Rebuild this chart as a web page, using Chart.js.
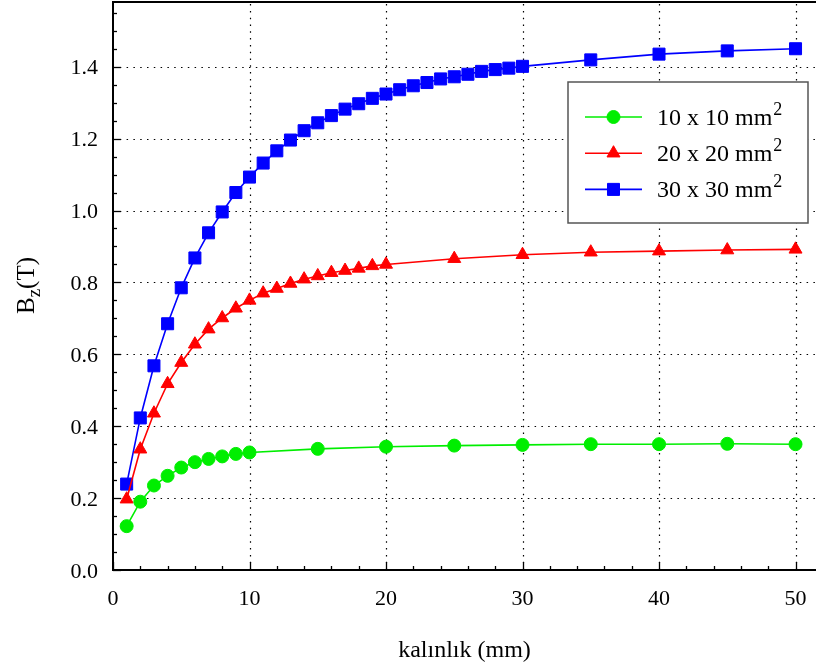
<!DOCTYPE html>
<html><head><meta charset="utf-8">
<script src="https://cdn.jsdelivr.net/npm/chart.js@4/dist/chart.umd.min.js"></script>
<style>html,body{margin:0;padding:0;background:#fff;overflow:hidden}</style>
</head><body>
<canvas id="c" width="816" height="671" style="display:block;width:816px;height:671px"></canvas>
<script>
// ---- data ----
const xGreen = [1,2,3,4,5,6,7,8,9,10,15,20,25,30,35,40,45,50];
const yGreen = [0.122,0.19,0.235,0.262,0.285,0.300,0.309,0.316,0.323,0.327,0.337,0.343,0.346,0.348,0.350,0.350,0.351,0.350];
const xRed = [1,2,3,4,5,6,7,8,9,10,11,12,13,14,15,16,17,18,19,20,25,30,35,40,45,50];
const yRed = [0.197,0.336,0.436,0.518,0.577,0.628,0.670,0.701,0.728,0.750,0.770,0.783,0.797,0.809,0.818,0.827,0.833,0.839,0.846,0.850,0.866,0.877,0.884,0.887,0.890,0.892];
const xBlue = [1,2,3,4,5,6,7,8,9,10,11,12,13,14,15,16,17,18,19,20,21,22,23,24,25,26,27,28,29,30,35,40,45,50];
const yBlue = [0.239,0.423,0.568,0.685,0.785,0.868,0.938,0.996,1.050,1.093,1.132,1.166,1.196,1.222,1.244,1.264,1.282,1.297,1.312,1.324,1.336,1.347,1.356,1.366,1.372,1.379,1.387,1.392,1.396,1.401,1.419,1.435,1.444,1.450];
const seriesLabels = ["10 x 10 mm\u00b2", "20 x 20 mm\u00b2", "30 x 30 mm\u00b2"];
const xMajorTicks = [0,10,20,30,40,50];
const yMajorTicks = [0,0.2,0.4,0.6,0.8,1.0,1.2,1.4];
const xTickLabels = ["0","10","20","30","40","50"];
const yTickLabels = ["0.0","0.2","0.4","0.6","0.8","1.0","1.2","1.4"];
const xTitle = "kalınlık (mm)";
const yTitleMain = "B", yTitleSub = "z", yTitleRest = "(T)";

const FONT = "'Liberation Serif', 'Times New Roman', serif";
const pts = (xs, ys) => xs.map((x, i) => ({x: x, y: ys[i]}));

const axesPlugin = {
  id: 'axesDecor',
  beforeDatasetsDraw(chart) {
    const ctx = chart.ctx, ca = chart.chartArea;
    const xs = chart.scales.x, ys = chart.scales.y;
    ctx.save();
    ctx.strokeStyle = '#000';
    ctx.lineWidth = 1.2;
    ctx.setLineDash([1.5, 5.3]);
    xMajorTicks.forEach(v => {
      if (v === 0) return;
      const px = Math.round(xs.getPixelForValue(v)) + 0.5;
      ctx.beginPath(); ctx.moveTo(px, ca.bottom); ctx.lineTo(px, ca.top); ctx.stroke();
    });
    yMajorTicks.forEach(v => {
      if (v === 0) return;
      const py = Math.round(ys.getPixelForValue(v)) + 0.5;
      ctx.beginPath(); ctx.moveTo(ca.left, py); ctx.lineTo(ca.right, py); ctx.stroke();
    });
    ctx.restore();
  },
  afterDatasetsDraw(chart) {
    const ctx = chart.ctx, ca = chart.chartArea;
    const xs = chart.scales.x, ys = chart.scales.y;
    ctx.save();
    ctx.setLineDash([]);
    ctx.strokeStyle = '#000';
    // ticks (inward)
    ctx.lineWidth = 1.3;
    for (let v = 0; v <= xs.max; v += 2) {
      const px = Math.round(xs.getPixelForValue(v)) + 0.5;
      const len = (v % 10 === 0) ? 8 : 4;
      ctx.beginPath(); ctx.moveTo(px, ca.bottom); ctx.lineTo(px, ca.bottom - len); ctx.stroke();
    }
    for (let k = 0; k * 0.05 <= ys.max + 1e-9; k++) {
      const py = Math.round(ys.getPixelForValue(k * 0.05)) + 0.5;
      const len = (k % 4 === 0) ? 8 : 4;
      ctx.beginPath(); ctx.moveTo(ca.left, py); ctx.lineTo(ca.left + len, py); ctx.stroke();
    }
    // axis lines
    ctx.lineWidth = 2;
    ctx.beginPath();
    ctx.moveTo(ca.right, ca.top); ctx.lineTo(ca.left, ca.top);
    ctx.lineTo(ca.left, ca.bottom); ctx.lineTo(ca.right, ca.bottom);
    ctx.stroke();

    // tick labels
    ctx.fillStyle = '#000';
    ctx.font = '22px ' + FONT;
    ctx.textBaseline = 'alphabetic';
    ctx.textAlign = 'center';
    xMajorTicks.forEach((v, i) => {
      ctx.fillText(xTickLabels[i], xs.getPixelForValue(v), ca.bottom + 35);
    });
    ctx.textAlign = 'right';
    yMajorTicks.forEach((v, i) => {
      ctx.fillText(yTickLabels[i], ca.left - 15, ys.getPixelForValue(v) + 7.5);
    });

    // legend
    const bx = ca.left + 455, by = ca.top + 80, bw = 240, bh = 141;
    ctx.fillStyle = '#fff';
    ctx.fillRect(bx, by, bw, bh);
    ctx.strokeStyle = '#555';
    ctx.lineWidth = 1.5;
    ctx.strokeRect(bx, by, bw, bh);
    chart.data.datasets.forEach((ds, i) => {
      const ry = by + 35 + i * 36.2;
      ctx.strokeStyle = ds.borderColor;
      ctx.lineWidth = 1.6;
      ctx.beginPath(); ctx.moveTo(bx + 17, ry); ctx.lineTo(bx + 74, ry); ctx.stroke();
      ctx.fillStyle = ds.backgroundColor;
      ctx.strokeStyle = ds.borderColor;
      ctx.lineWidth = 1;
      Chart.helpers.drawPoint(ctx, {pointStyle: ds.pointStyle, radius: ds.pointRadius, borderWidth: 1}, bx + 45.5, ry);
      const parts = ds.label.split('\u00b2');
      ctx.fillStyle = '#000';
      ctx.font = '24px ' + FONT;
      ctx.textBaseline = 'alphabetic';
      ctx.textAlign = 'left';
      const tx = bx + 89, ty = ry + 8;
      ctx.fillText(parts[0], tx, ty);
      const w = ctx.measureText(parts[0]).width;
      ctx.font = '18px ' + FONT;
      ctx.fillText('2', tx + w + 1, ty - 10);
    });

    // y title with subscript
    ctx.fillStyle = '#000';
    ctx.translate(34, 314);
    ctx.rotate(-Math.PI / 2);
    ctx.textAlign = 'left';
    ctx.textBaseline = 'alphabetic';
    ctx.font = '25px ' + FONT;
    ctx.fillText(yTitleMain, 0, 0);
    let w1 = ctx.measureText(yTitleMain).width;
    ctx.font = '19px ' + FONT;
    ctx.fillText(yTitleSub, w1, 6);
    let w2 = ctx.measureText(yTitleSub).width;
    ctx.font = '25px ' + FONT;
    ctx.fillText(yTitleRest, w1 + w2, 0);
    ctx.restore();
  }
};

new Chart(document.getElementById('c'), {
  type: 'line',
  data: {
    datasets: [
      {label: seriesLabels[0], data: pts(xGreen, yGreen), borderColor: '#00ee00', backgroundColor: '#00ee00',
       pointStyle: 'circle', pointRadius: 6.5, pointBorderWidth: 1, borderWidth: 1.6},
      {label: seriesLabels[1], data: pts(xRed, yRed), borderColor: '#ff0000', backgroundColor: '#ff0000',
       pointStyle: 'triangle', pointRadius: 7.5, pointBorderWidth: 1, borderWidth: 1.6},
      {label: seriesLabels[2], data: pts(xBlue, yBlue), borderColor: '#0000ff', backgroundColor: '#0000ff',
       pointStyle: 'rect', pointRadius: 8.5, pointBorderWidth: 1, borderWidth: 1.6}
    ]
  },
  options: {
    responsive: false,
    animation: false,
    devicePixelRatio: 1,
    layout: {autoPadding: false, padding: {top: 2, right: 0, left: 0, bottom: 0}},
    plugins: {legend: {display: false}, tooltip: {enabled: false}},
    elements: {line: {tension: 0}},
    scales: {
      x: {
        type: 'linear', min: 0, max: 51.5,
        afterFit: s => { s.height = 101; },
        ticks: {display: false},
        grid: {display: false, drawTicks: false},
        border: {display: false},
        title: {display: true, text: xTitle, color: '#000', font: {family: FONT, size: 24}, padding: {top: 0, bottom: 6}}
      },
      y: {
        type: 'linear', min: 0, max: 1.58,
        afterFit: s => { s.width = 113; },
        ticks: {display: false},
        grid: {display: false, drawTicks: false},
        border: {display: false}
      }
    }
  },
  plugins: [axesPlugin]
});
</script>
</body></html>
